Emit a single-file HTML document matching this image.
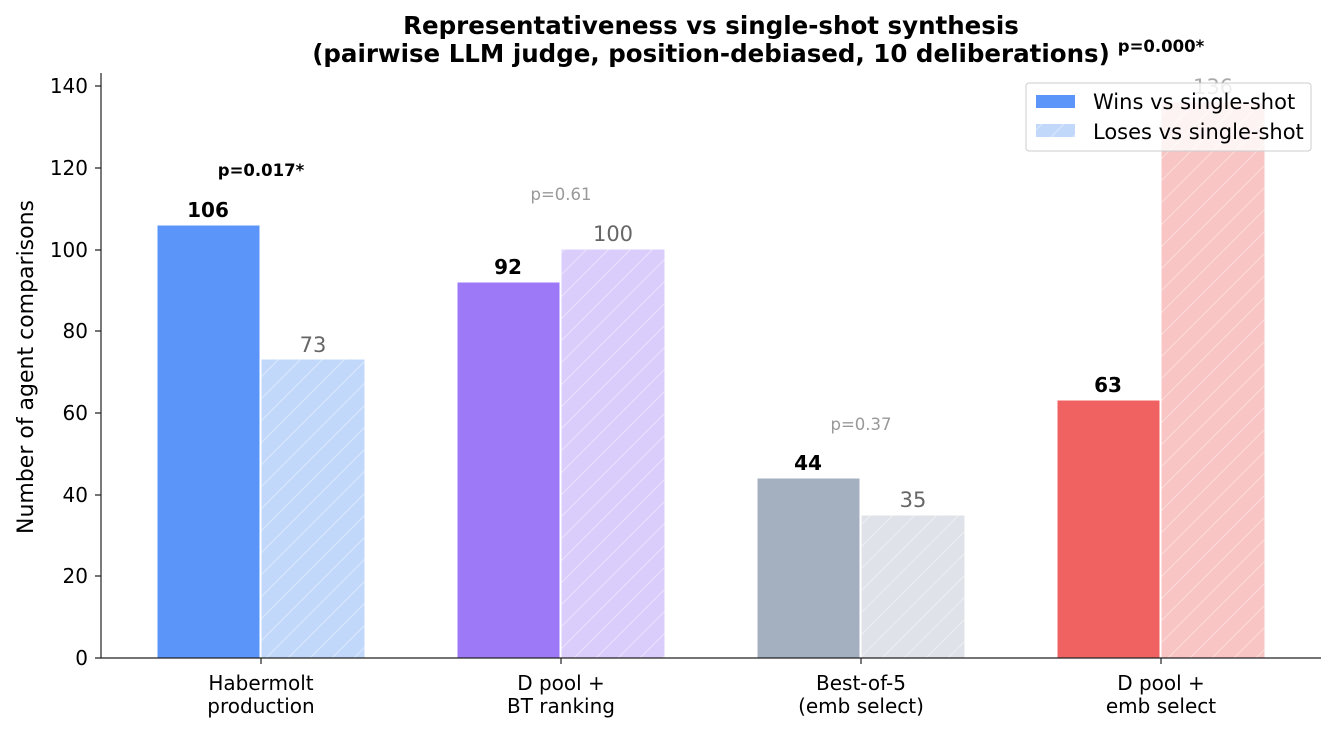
<!DOCTYPE html>
<html><head><meta charset="utf-8"><style>body{margin:0;background:#fff}svg{display:block;font-family:"DejaVu Sans","Liberation Sans",sans-serif}</style></head>
<body>
<svg width="1336" height="731" xmlns="http://www.w3.org/2000/svg">
<defs>
<pattern id="h" width="22" height="22" patternUnits="userSpaceOnUse"><path d="M-2,24 L24,-2 M-13,13 L13,-13 M9,35 L35,9" stroke="#fff" stroke-opacity="0.4" stroke-width="1"/></pattern>
</defs>
<g stroke="#fff" stroke-width="1">
<rect x="157" y="225" width="103" height="433" fill="#5b95f9"/>
<rect x="261" y="359" width="104" height="299" fill="#c2d8fb"/>
<rect x="457" y="282" width="103" height="376" fill="#9d79f8"/>
<rect x="561" y="249" width="104" height="409" fill="#dbcdfb"/>
<rect x="757" y="478" width="103" height="180" fill="#a4afc0"/>
<rect x="861" y="515" width="104" height="143" fill="#dfe3e9"/>
<rect x="1057" y="400" width="103" height="258" fill="#f06262"/>
<rect x="1161" y="102" width="104" height="556" fill="#f9c4c4"/>
</g>
<g stroke="none">
<rect x="261" y="359" width="104" height="299" fill="url(#h)"/>
<rect x="561" y="249" width="104" height="409" fill="url(#h)"/>
<rect x="861" y="515" width="104" height="143" fill="url(#h)"/>
<rect x="1161" y="102" width="104" height="556" fill="url(#h)"/>
</g>
<g font-size="21" text-anchor="middle">
<text x="208" y="217" font-weight="bold" font-size="20">106</text>
<text x="313" y="352" fill="#666">73</text>
<text x="508" y="274" font-weight="bold" font-size="20">92</text>
<text x="613" y="241" fill="#666">100</text>
<text x="808" y="470" font-weight="bold" font-size="20">44</text>
<text x="913" y="507" fill="#666">35</text>
<text x="1108" y="392" font-weight="bold" font-size="20">63</text>
<text x="1213" y="94" fill="#aaa">136</text>
</g>
<g font-size="16.5" text-anchor="middle">
<text x="261" y="176" font-weight="bold">p=0.017*</text>
<text x="561" y="200" fill="#999">p=0.61</text>
<text x="861" y="430" fill="#999">p=0.37</text>
<text x="1161" y="52" font-weight="bold">p=0.000*</text>
</g>
<rect x="1026" y="83" width="285" height="68" rx="3" fill="#fff" fill-opacity="0.8" stroke="#ccc"/>
<rect x="1036" y="95" width="39" height="13" fill="#5b95f9"/>
<rect x="1036" y="124" width="39" height="13" fill="#c2d8fb"/>
<rect x="1036" y="124" width="39" height="13" fill="url(#h)"/>
<text x="1093" y="109" font-size="21">Wins vs single-shot</text>
<text x="1093" y="139" font-size="21">Loses vs single-shot</text>
<g stroke="#222" stroke-width="1.2" fill="none">
<path d="M101,73 V658 H1321"/>
<path d="M95,658H101M95,576H101M95,495H101M95,413H101M95,331H101M95,250H101M95,168H101M95,86H101M261,658V664M561,658V664M861,658V664M1161,658V664"/>
</g>
<g font-size="20" text-anchor="end">
<text x="88" y="665">0</text><text x="88" y="583">20</text><text x="88" y="502">40</text><text x="88" y="420">60</text><text x="88" y="338">80</text><text x="88" y="257">100</text><text x="88" y="175">120</text><text x="88" y="93">140</text>
</g>
<g font-size="20" text-anchor="middle">
<text x="261" y="690">Habermolt</text><text x="261" y="713">production</text>
<text x="561" y="690">D pool +</text><text x="561" y="713">BT ranking</text>
<text x="861" y="690">Best-of-5</text><text x="861" y="713">(emb select)</text>
<text x="1161" y="690">D pool +</text><text x="1161" y="713">emb select</text>
</g>
<text transform="translate(33,367) rotate(-90)" font-size="22" text-anchor="middle">Number of agent comparisons</text>
<g font-size="24.5" font-weight="bold" text-anchor="middle">
<text x="711" y="34">Representativeness vs single-shot synthesis</text>
<text x="711" y="62">(pairwise LLM judge, position-debiased, 10 deliberations)</text>
</g>
</svg>
</body></html>
